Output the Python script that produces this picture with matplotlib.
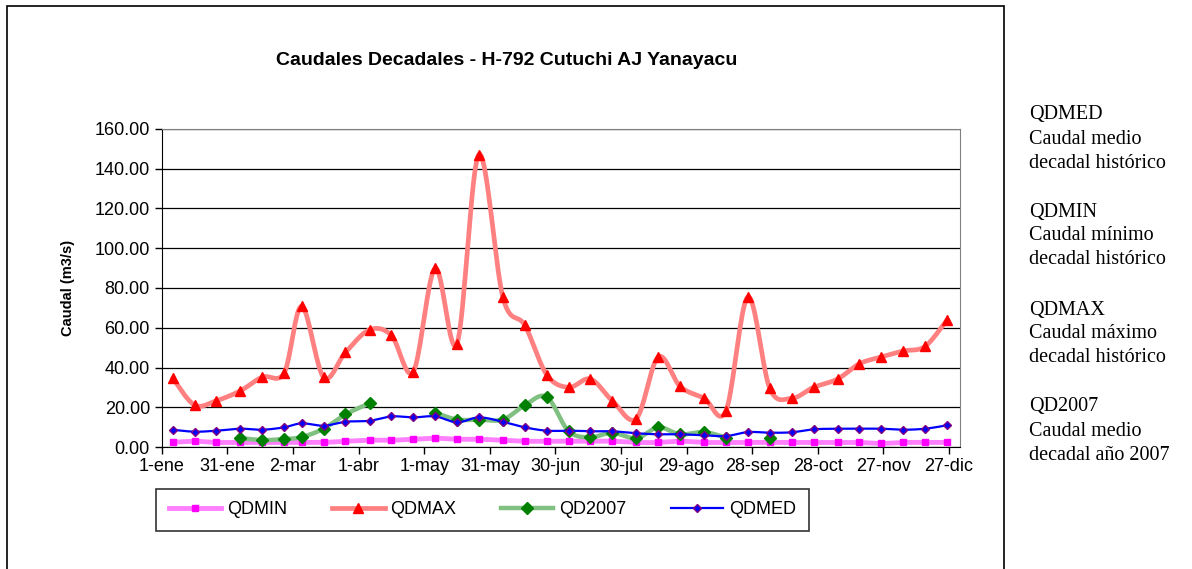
import numpy as np
import pandas as pd
import matplotlib
matplotlib.use("Agg")
import matplotlib.pyplot as plt
from matplotlib.lines import Line2D
from matplotlib.patches import Rectangle

# fechas centrales de cada decada (dias 6, 16 y 26 de cada mes, 2007)
fechas = [f"2007-{m:02d}-{d:02d}" for m in range(1, 13) for d in (6, 16, 26)]
dias = pd.to_datetime(fechas).dayofyear.to_numpy()

qdmin = [2.3, 2.9, 2.3, 2.3, 2.3, 2.3, 2.3, 2.3, 2.9, 3.4, 3.4, 3.9,
         4.4, 3.9, 3.9, 3.4, 2.9, 2.9, 2.9, 2.9, 2.9, 2.3, 2.3, 2.9,
         2.3, 2.3, 2.3, 2.3, 2.3, 2.3, 2.3, 2.3, 1.8, 2.3, 2.3, 2.3]
qdmax = [34.7, 21.1, 23.3, 28.3, 35.2, 37.4, 70.8, 35.1, 47.6, 59.0, 56.2, 37.9,
         89.9, 52.0, 147.1, 75.3, 61.2, 36.4, 30.0, 34.2, 23.3, 14.3, 45.3, 30.5,
         24.5, 18.3, 75.5, 29.5, 24.5, 30.0, 34.2, 41.9, 45.3, 48.3, 50.6, 63.9]
nan = np.nan
qd2007 = [nan, nan, nan, 4.5, 3.5, 4.0, 5.0, 9.2, 16.4, 22.0, nan, nan,
          17.3, 13.8, 13.8, 13.8, 21.0, 25.2, 8.0, 4.9, 7.2, 4.4, 9.9, 6.4,
          7.5, 4.7, nan, 4.5, nan, nan, nan, nan, nan, nan, nan, nan]
qdmed = [8.7, 7.7, 8.2, 9.2, 8.7, 9.9, 11.9, 10.7, 12.7, 13.2, 15.4, 14.9,
         15.4, 12.4, 14.9, 12.7, 9.9, 8.2, 8.2, 7.9, 7.9, 6.9, 6.4, 6.4,
         5.9, 5.5, 7.5, 7.2, 7.4, 8.9, 9.2, 9.2, 9.2, 8.7, 9.2, 10.9]

tick_dias = [1, 31, 61, 91, 121, 151, 181, 211, 241, 271, 301, 331, 361]
tick_labels = ["1-ene", "31-ene", "2-mar", "1-abr", "1-may", "31-may", "30-jun",
               "30-jul", "29-ago", "28-sep", "28-oct", "27-nov", "27-dic"]

notas = [["QDMED", "Caudal medio", "decadal histórico"],
         ["QDMIN", "Caudal mínimo", "decadal histórico"],
         ["QDMAX", "Caudal máximo", "decadal histórico"],
         ["QD2007", "Caudal medio", "decadal año 2007"]]


def suavizar(x, y, n=20):
    # curva suavizada tipo Excel (Bezier / Catmull-Rom), cortada en los huecos
    x = np.asarray(x, float)
    y = np.asarray(y, float)
    idx = np.where(~np.isnan(y))[0]
    tramos = np.split(idx, np.where(np.diff(idx) > 1)[0] + 1)
    xs, ys = [], []
    t = np.linspace(0, 1, n)[:, None]
    for r in tramos:
        if len(r) < 2:
            continue
        p = np.column_stack([x[r], y[r]])
        for i in range(len(p) - 1):
            p0 = p[max(i - 1, 0)]
            p1 = p[i]
            p2 = p[i + 1]
            p3 = p[min(i + 2, len(p) - 1)]
            c1 = p1 + (p2 - p0) / 6
            c2 = p2 - (p3 - p1) / 6
            b = ((1 - t) ** 3 * p1 + 3 * (1 - t) ** 2 * t * c1
                 + 3 * (1 - t) * t ** 2 * c2 + t ** 3 * p2)
            xs.extend(b[:, 0])
            ys.extend(b[:, 1])
        xs.append(nan)
        ys.append(nan)
    return np.array(xs), np.array(ys)


plt.rcParams['font.family'] = ['Liberation Sans', 'DejaVu Sans']

fig = plt.figure(figsize=(11.92, 5.69), dpi=100)
ax = fig.add_axes([0.1357, 0.2144, 0.6697, 0.5589])

series = [
    ("QDMIN", qdmin, dict(color="#FF80FF", lw=3.5),
     dict(marker="s", ms=5, mfc="#FF00FF", mec="#FF00FF")),
    ("QDMAX", qdmax, dict(color="#FF8080", lw=3.4),
     dict(marker="^", ms=7, mfc="#FF0000", mec="#FF0000")),
    ("QD2007", qd2007, dict(color="#80C080", lw=3.2),
     dict(marker="D", ms=6.5, mfc="#008000", mec="#008000")),
    ("QDMED", qdmed, dict(color="#0000FF", lw=1.6),
     dict(marker="D", ms=4.5, mfc="#0000FF", mec="#800080", mew=1)),
]

handles = []
for i, (nombre, vals, lstyle, mstyle) in enumerate(series):
    sx, sy = suavizar(dias, vals)
    ax.plot(sx, sy, solid_capstyle="round", zorder=3 + i, **lstyle)
    ax.plot(dias, vals, ls="none", zorder=3 + i, **mstyle)
    handles.append(Line2D([], [], label=nombre, **lstyle, **mstyle))

ax.set_xlim(1, 366)
ax.set_ylim(0, 160)
ax.set_yticks(np.arange(0, 161, 20))
ax.set_yticklabels([f"{v:.2f}" for v in np.arange(0, 161, 20)])
ax.set_xticks(tick_dias)
ax.set_xticklabels(tick_labels)
ax.tick_params(labelsize=13, direction="out", length=5, width=1, colors="black")
ax.tick_params(axis="x", pad=3)
ax.grid(axis="y", color="black", lw=0.9)
ax.set_axisbelow(True)
for s in ("top", "right"):
    ax.spines[s].set_color("#808080")
for s in ("left", "bottom"):
    ax.spines[s].set_color("black")
ax.set_ylabel("Caudal (m3/s)", fontsize=10.5, fontweight="bold", labelpad=14)

fig.text(0.4253, 0.8928, "Caudales Decadales - H-792 Cutuchi AJ Yanayacu",
         ha="center", va="center", fontsize=14, fontweight="bold")

leg = fig.legend(handles=handles, loc="center", bbox_to_anchor=(0.4048, 0.1037),
                 ncol=4, fontsize=13, frameon=True, fancybox=False,
                 handlelength=2.9, handletextpad=0.3, columnspacing=2.5,
                 borderpad=0.7)
leg.get_frame().set_edgecolor("black")
leg.get_frame().set_linewidth(1.2)

# marco exterior del grafico
fig.patches.append(Rectangle((7 / 1192, -0.05), 997 / 1192, 1.05 - 6 / 569,
                             transform=fig.transFigure, fill=False,
                             ec="black", lw=1.2))

y0 = [115, 212, 310, 407]
for bloque, yb in zip(notas, y0):
    for j, linea in enumerate(bloque):
        fig.text(1029 / 1192, 1 - (yb + j * 24) / 569, linea, ha="left", va="center",
                 fontsize=14.5, family=["Liberation Serif", "DejaVu Serif"])

fig.savefig("out.png", dpi=100)
